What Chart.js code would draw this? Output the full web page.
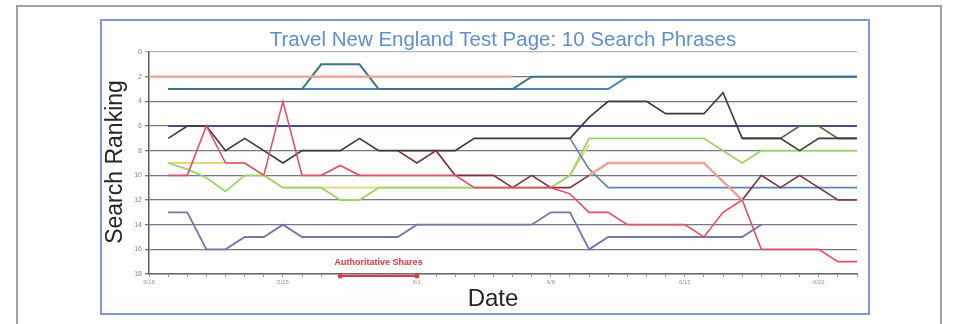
<!DOCTYPE html>
<html>
<head>
<meta charset="utf-8">
<script src="https://cdn.jsdelivr.net/npm/chart.js@4.4.1/dist/chart.umd.min.js"></script>
<style>
  html, body { margin: 0; padding: 0; background: #fff; }
  #page { position: relative; width: 958px; height: 324px; overflow: hidden; }
  #outer { position: absolute; left: 16px; top: 5px; width: 922px; height: 330px;
           border: 2px solid #a2a2a2; border-bottom: none; }
  #frame { position: absolute; left: 100px; top: 19px; width: 766px; height: 292px;
           border: 2px solid #7b98cc; background: #fdfdfb; }
  #chart { position: absolute; left: 0; top: 0; }
</style>
</head>
<body>
<div id="page">
  <div id="outer"></div>
  <div id="frame"></div>
  <canvas id="chart" width="958" height="324"></canvas>
</div>
<script>
// one point per day, labels every 7th day
const days = ["5/18","5/19","5/20","5/21","5/22","5/23","5/24","5/25","5/26","5/27",
  "5/28","5/29","5/30","5/31","6/1","6/2","6/3","6/4","6/5","6/6",
  "6/7","6/8","6/9","6/10","6/11","6/12","6/13","6/14","6/15","6/16",
  "6/17","6/18","6/19","6/20","6/21","6/22","6/23","6/24"];
const labelEvery = 7;

// search ranking per day (null = not shown)
const salmonRank = [2,2,2,2,2,2,2,2,2,2, 2,2,2,2,2,2,2,2,2,2,
  null,null,null,10,9,9,9,9,9,9, 10.5,12,null,null,null,null,null,null];
const tealRank = [null,3,3,3,3,3,3,3,3,1, 1,1,3,3,3,3,3,3,3,3,
  2,2,2,2,2,2,2,2,2,2, 2,2,2,2,2,2,2,2];
const blueRank = [null,3,3,3,3,3,3,3,3,3, 3,3,3,3,3,3,3,3,3,3,
  3,3,3,3,3,2,2,2,2,2, 2,2,2,2,2,2,2,2];
const navyRank = [null,6,6,6,6,6,6,6,6,6, 6,6,6,6,6,6,6,6,6,6,
  6,6,6,6,6,6,6,6,6,6, 6,6,6,6,6,6,6,6];
const blackRank = [null,7,6,6,8,7,8,9,8,8, 8,7,8,8,8,8,8,7,7,7,
  7,7,7,5.3,4,4,4,5,5,5, 3.3,7,7,7,8,7,7,7];
const oliveRank = [null,null,null,null,null,null,null,null,null,null,
  null,null,null,null,null,null,null,null,null,null,
  null,null,null,null,null,null,null,null,null,null,
  null,7,7,7,6,6,7,7];
const slateRank = [null,null,null,null,null,null,null,null,null,null,
  null,null,null,null,null,null,null,null,null,null,
  null,null,7,9.5,11,11,11,11,11,11, 11,11,11,11,11,11,11,11];
const greenRank = [null,9,9.5,10.2,11.3,10,10,11,11,11, 12,12,11,11,11,11,11,11,11,11,
  11,11,10,7,7,7,7,7,7,7, 8,9,8,8,8,8,8,8];
const yellowRank = [null,9,9,9,9,9,10,11,11,11, 11,11,11,11,11,11,11,11,11,11,
  11,11,10,7.5,null,null,null,null,null,null, null,null,null,null,null,null,null,null];
const redRank = [null,10,10,6,9,9,10,4,10,10, 9.2,10,10,10,10,10,10,11,11,11,
  11,11,11.5,13,13,14,14,14,14,15, 13,12,16,16,16,16,17,17];
const maroonRank = [null,null,null,null,null,null,null,null,null,null,
  null,null,null,8,9,8,10,10,10,11, 10,11,11,10,9,9,9,9,9,9,
  10.5,12,10,11,10,11,12,12];
const greyBlueRank = [null,13,13,16,16,15,15,14,15,15, 15,15,15,15,14,14,14,14,14,14,
  14,13,13,16,15,15,15,15,15,15, 15,15,14,null,null,null,null,null];

const rankTicks = { min: 0, max: 18, step: 2 };

const chartTitle = "Travel New England Test Page: 10 Search Phrases";
const yTitle = "Search Ranking";
const xTitle = "Date";
const noteText = "Authoritative Shares";
const noteFrom = 10, noteTo = 14;

function line(data, color, width) {
  return { data, borderColor: color, borderWidth: width, pointRadius: 0, fill: false, tension: 0 };
}

const textPlugin = {
  id: "textPlugin",
  afterDraw(chart) {
    const ctx = chart.ctx;
    const xs = chart.scales.x;
    const ys = chart.scales.y;
    ctx.save();
    ctx.fillStyle = "#5f8fcf";
    ctx.font = "20.5px 'Liberation Sans', Arial, sans-serif";
    ctx.textAlign = "center";
    ctx.textBaseline = "alphabetic";
    ctx.fillText(chartTitle, 503, 46);

    ctx.fillStyle = "#262626";
    ctx.font = "24px 'Liberation Sans', Arial, sans-serif";
    ctx.fillText(xTitle, 493, 306);

    ctx.save();
    ctx.font = "23px 'Liberation Sans', Arial, sans-serif";
    ctx.translate(122, 162);
    ctx.rotate(-Math.PI / 2);
    ctx.fillText(yTitle, 0, 0);
    ctx.restore();

    // annotation under the axis
    const x1 = xs.getPixelForValue(noteFrom);
    const x2 = xs.getPixelForValue(noteTo);
    const yb = ys.getPixelForValue(rankTicks.max) + 2;
    ctx.strokeStyle = "#e0384a";
    ctx.fillStyle = "#e0384a";
    ctx.lineWidth = 2;
    ctx.beginPath();
    ctx.moveTo(x1, yb);
    ctx.lineTo(x2, yb);
    ctx.stroke();
    [x1, x2].forEach((x) => {
      ctx.beginPath();
      ctx.arc(x, yb, 2.5, 0, Math.PI * 2);
      ctx.fill();
    });
    ctx.font = "bold 9px 'Liberation Sans', Arial, sans-serif";
    ctx.fillText(noteText, (x1 + x2) / 2, yb - 11);
    ctx.restore();
  },
};

new Chart(document.getElementById("chart").getContext("2d"), {
  type: "line",
  data: {
    labels: days,
    datasets: [
      line(salmonRank, "#eea595", 2.4),
      line(redRank, "#e0506a", 1.6),
      line(maroonRank, "#7a3340", 1.6),
      line(tealRank, "#3d7585", 2),
      line(blueRank, "#4a86bb", 2),
      line(blackRank, "#3a3a3a", 1.6),
      line(oliveRank, "#4f6a3c", 1.6),
      line(slateRank, "#5f85b5", 1.6),
      line(greenRank, "#9bd46a", 1.8),
      line(yellowRank, "#e3d77a", 1.8),
      line(navyRank, "#4b4d86", 2.2),
      line(greyBlueRank, "#7078a8", 1.8),
    ],
  },
  options: {
    responsive: false,
    animation: false,
    devicePixelRatio: 1,
    layout: { padding: { left: 119, right: 101, top: 52, bottom: 36 } },
    plugins: {
      legend: { display: false },
      title: { display: false },
      tooltip: { enabled: false },
    },
    scales: {
      x: {
        type: "category",
        offset: false,
        afterFit: (s) => { s.height = 14; },
        grid: { drawOnChartArea: false, drawTicks: true, tickLength: 3, color: "#9a9a9a" },
        border: { display: true, color: "#6a6a72", width: 1.5 },
        ticks: {
          autoSkip: false,
          maxRotation: 0,
          padding: 2,
          color: "#999",
          font: { size: 6 },
          callback: function (v, i) { return i % labelEvery === 0 ? days[i] : ""; },
        },
      },
      y: {
        reverse: true,
        min: rankTicks.min,
        max: rankTicks.max,
        afterFit: (s) => { s.width = 30; },
        grid: {
          color: (c) => (c.tick && c.tick.value === 0 ? "#b4b4bc" : "#77778a"),
          lineWidth: 1.3,
          tickLength: 4,
        },
        border: { display: true, color: "#5a5a62", width: 1.5 },
        ticks: { stepSize: rankTicks.step, padding: 3, color: "#8a8a8a", font: { size: 7 } },
      },
    },
  },
  plugins: [textPlugin],
});
</script>
</body>
</html>
